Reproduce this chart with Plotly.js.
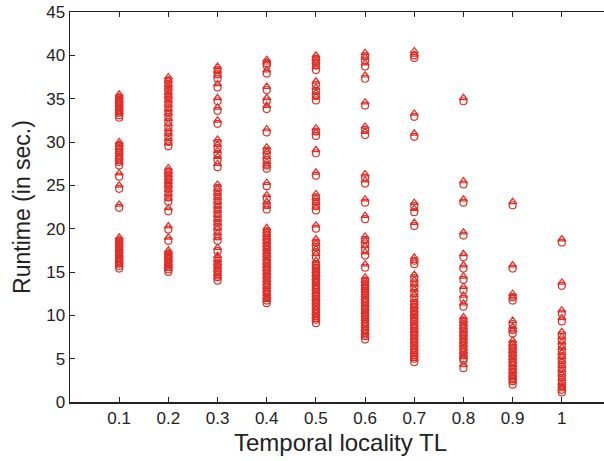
<!DOCTYPE html>
<html>
<head>
<meta charset="utf-8">
<script src="https://cdn.plot.ly/plotly-3.0.1.min.js"></script>
<style>
html,body{margin:0;padding:0;width:604px;height:461px;overflow:hidden;background:#fff;}
#chart{width:620px;height:461px;}
</style>
</head>
<body>
<div id="chart"></div>
<script>
// Temporal locality TL values (x categories)
const tlValues = [0.1, 0.2, 0.3, 0.4, 0.5, 0.6, 0.7, 0.8, 0.9, 1.0];
const xTickVals = [0.1, 0.2, 0.3, 0.4, 0.5, 0.6, 0.7, 0.8, 0.9, 1.0];
const xTickText = ["0.1", "0.2", "0.3", "0.4", "0.5", "0.6", "0.7", "0.8", "0.9", "1"];
const yTickVals = [0, 5, 10, 15, 20, 25, 30, 35, 40, 45];

// Runtime (sec.) - circle series, one array per TL value
const circ01 = [35.1,34.8,34.5,34.3,34.0,33.7,33.4,33.1,32.8,29.6,29.3,28.9,28.5,28.1,27.7,27.3,26.0,24.6,22.4,18.6,18.3,18.0,17.6,17.3,17.0,16.6,16.3,16.0,15.7,15.4];
const circ02 = [37.1,36.7,36.2,35.8,35.3,34.9,34.4,33.9,33.4,32.9,32.3,31.7,31.1,30.6,30.0,29.5,26.6,26.2,25.8,25.4,25.0,24.6,24.1,23.6,23.1,22.0,19.9,18.6,17.1,16.8,16.5,16.2,15.9,15.6,15.3,15.0];
const circ03 = [38.3,37.8,37.3,36.3,34.7,33.6,32.1,29.9,29.3,28.6,27.9,27.1,24.7,24.2,23.7,23.2,22.7,22.2,21.7,21.2,20.7,20.2,19.7,19.1,18.6,17.4,16.5,16.0,15.6,15.2,14.8,14.4,14.0];
const circ04 = [39.1,38.8,37.9,36.0,34.7,33.8,31.1,29.0,28.5,27.9,27.3,26.9,24.9,23.5,22.7,22.2,19.7,19.3,18.9,18.5,18.1,17.7,17.3,16.9,16.5,16.1,15.7,15.3,14.9,14.5,14.1,13.7,13.3,12.9,12.5,12.1,11.7,11.4];
const circ05 = [39.6,39.2,38.8,38.3,36.6,35.9,35.3,34.8,31.2,30.7,28.7,26.1,23.6,23.1,22.6,22.1,20.0,18.4,17.9,17.3,16.7,15.9,15.5,15.1,14.7,14.3,13.9,13.5,13.1,12.7,12.3,11.9,11.5,11.1,10.7,10.3,9.9,9.5,9.1];
const circ06 = [39.9,39.4,38.7,37.3,34.2,31.4,30.8,25.9,25.2,23.0,21.1,18.7,18.2,17.6,16.9,15.5,14.0,13.6,13.2,12.8,12.4,12.0,11.6,11.2,10.8,10.4,10.0,9.6,9.2,8.8,8.4,8.0,7.6,7.2];
const circ07 = [40.0,39.7,32.9,30.6,22.6,21.9,20.3,16.3,15.9,14.3,13.7,13.2,12.6,12.0,11.4,11.0,10.6,10.2,9.8,9.4,9.0,8.6,8.2,7.8,7.4,7.0,6.6,6.2,5.8,5.4,5.0,4.6];
const circ08 = [34.7,25.1,23.0,19.2,16.7,15.4,14.1,12.9,11.9,11.0,9.4,9.0,8.6,8.2,7.8,7.4,7.0,6.6,6.2,5.8,5.4,5.0,4.8,3.9];
const circ09 = [22.7,15.4,12.1,11.7,9.0,8.3,7.9,6.7,6.3,5.9,5.5,5.1,4.7,4.3,3.9,3.5,3.1,2.7,2.4,2.0];
const circ10 = [18.4,13.4,10.2,9.3,7.7,7.1,6.5,5.9,5.3,4.8,4.3,3.8,3.3,2.8,2.3,1.8,1.4,1.1];

// Runtime (sec.) - triangle series, one array per TL value
const tri01 = [35.5,35.2,34.9,34.7,34.4,34.1,33.8,33.5,33.2,30.0,29.7,29.3,28.9,28.5,28.1,27.7,26.4,25.0,22.8,19.0,18.7,18.4,18.0,17.7,17.4,17.0,16.7,16.4,16.1,15.8];
const tri02 = [37.5,37.1,36.6,36.2,35.7,35.3,34.8,34.3,33.8,33.3,32.7,32.1,31.5,31.0,30.4,29.9,27.0,26.6,26.2,25.8,25.4,25.0,24.5,24.0,23.5,22.4,20.3,19.0,17.5,17.2,16.9,16.6,16.3,16.0,15.7,15.4];
const tri03 = [38.7,38.2,37.7,36.7,35.1,34.0,32.5,30.3,29.7,29.0,28.3,27.5,25.1,24.6,24.1,23.6,23.1,22.6,22.1,21.6,21.1,20.6,20.1,19.5,19.0,17.8,16.9,16.4,16.0,15.6,15.2,14.8,14.4];
const tri04 = [39.5,39.2,38.3,36.4,35.1,34.2,31.5,29.4,28.9,28.3,27.7,27.3,25.3,23.9,23.1,22.6,20.1,19.7,19.3,18.9,18.5,18.1,17.7,17.3,16.9,16.5,16.1,15.7,15.3,14.9,14.5,14.1,13.7,13.3,12.9,12.5,12.1,11.8];
const tri05 = [40.0,39.6,39.2,38.7,37.0,36.3,35.7,35.2,31.6,31.1,29.1,26.5,24.0,23.5,23.0,22.5,20.4,18.8,18.3,17.7,17.1,16.3,15.9,15.5,15.1,14.7,14.3,13.9,13.5,13.1,12.7,12.3,11.9,11.5,11.1,10.7,10.3,9.9,9.5];
const tri06 = [40.3,39.8,39.1,37.7,34.6,31.8,31.2,26.3,25.6,23.4,21.5,19.1,18.6,18.0,17.3,15.9,14.4,14.0,13.6,13.2,12.8,12.4,12.0,11.6,11.2,10.8,10.4,10.0,9.6,9.2,8.8,8.4,8.0,7.6];
const tri07 = [40.5,40.1,33.3,31.0,23.0,22.3,20.7,16.7,16.3,14.7,14.1,13.6,13.0,12.4,11.8,11.4,11.0,10.6,10.2,9.8,9.4,9.0,8.6,8.2,7.8,7.4,7.0,6.6,6.2,5.8,5.4,5.0];
const tri08 = [35.1,25.5,23.4,19.6,17.1,15.8,14.5,13.3,12.3,11.4,9.8,9.4,9.0,8.6,8.2,7.8,7.4,7.0,6.6,6.2,5.8,5.4,5.2,4.3];
const tri09 = [23.1,15.8,12.5,12.1,9.4,8.7,8.3,7.1,6.7,6.3,5.9,5.5,5.1,4.7,4.3,3.9,3.5,3.1,2.8,2.4];
const tri10 = [18.8,13.8,10.6,9.7,8.1,7.5,6.9,6.3,5.7,5.2,4.7,4.2,3.7,3.2,2.7,2.2,1.8,1.5];

const circleCols = [circ01, circ02, circ03, circ04, circ05, circ06, circ07, circ08, circ09, circ10];
const triangleCols = [tri01, tri02, tri03, tri04, tri05, tri06, tri07, tri08, tri09, tri10];

function flatten(cols) {
  const xs = [], ys = [];
  cols.forEach((col, i) => col.forEach(v => { xs.push(tlValues[i]); ys.push(v); }));
  return {xs, ys};
}

const red = "rgb(224,45,38)";
const c = flatten(circleCols);
const t = flatten(triangleCols);

const traces = [
  {x: c.xs, y: c.ys, type: "scatter", mode: "markers", name: "circle",
   marker: {symbol: "circle-open", size: 7, color: red, line: {width: 1.2, color: red}}},
  {x: t.xs, y: t.ys, type: "scatter", mode: "markers", name: "triangle",
   marker: {symbol: "triangle-up-open", size: 7, color: red, line: {width: 1.2, color: red}}}
];

const fontFamily = "Liberation Sans, Arial, Helvetica, sans-serif";
const layout = {
  width: 620, height: 461,
  margin: {l: 70, r: 9, t: 12, b: 59},
  paper_bgcolor: "#fff", plot_bgcolor: "#fff",
  showlegend: false,
  font: {family: fontFamily, size: 17, color: "#222"},
  xaxis: {
    range: [0, 1.1], tickvals: xTickVals, ticktext: xTickText,
    ticks: "inside", ticklen: 5, tickwidth: 1, tickcolor: "#222",
    showline: true, linecolor: "#222", linewidth: 1.5, mirror: "ticks",
    showgrid: false, zeroline: false,
    tickfont: {family: fontFamily, size: 17, color: "#222"},
    title: {text: "Temporal locality TL", font: {family: fontFamily, size: 24, color: "#222"}, standoff: 7}
  },
  yaxis: {
    range: [0, 45], tickvals: yTickVals,
    ticks: "inside", ticklen: 5, tickwidth: 1, tickcolor: "#222",
    showline: true, linecolor: "#222", linewidth: 1.5, mirror: "ticks",
    showgrid: false, zeroline: false,
    tickfont: {family: fontFamily, size: 17, color: "#222"},
    title: {text: "Runtime (in sec.)", font: {family: fontFamily, size: 23, color: "#222"}, standoff: 9}
  }
};

Plotly.newPlot("chart", traces, layout, {displayModeBar: false, staticPlot: true});
</script>
</body>
</html>
